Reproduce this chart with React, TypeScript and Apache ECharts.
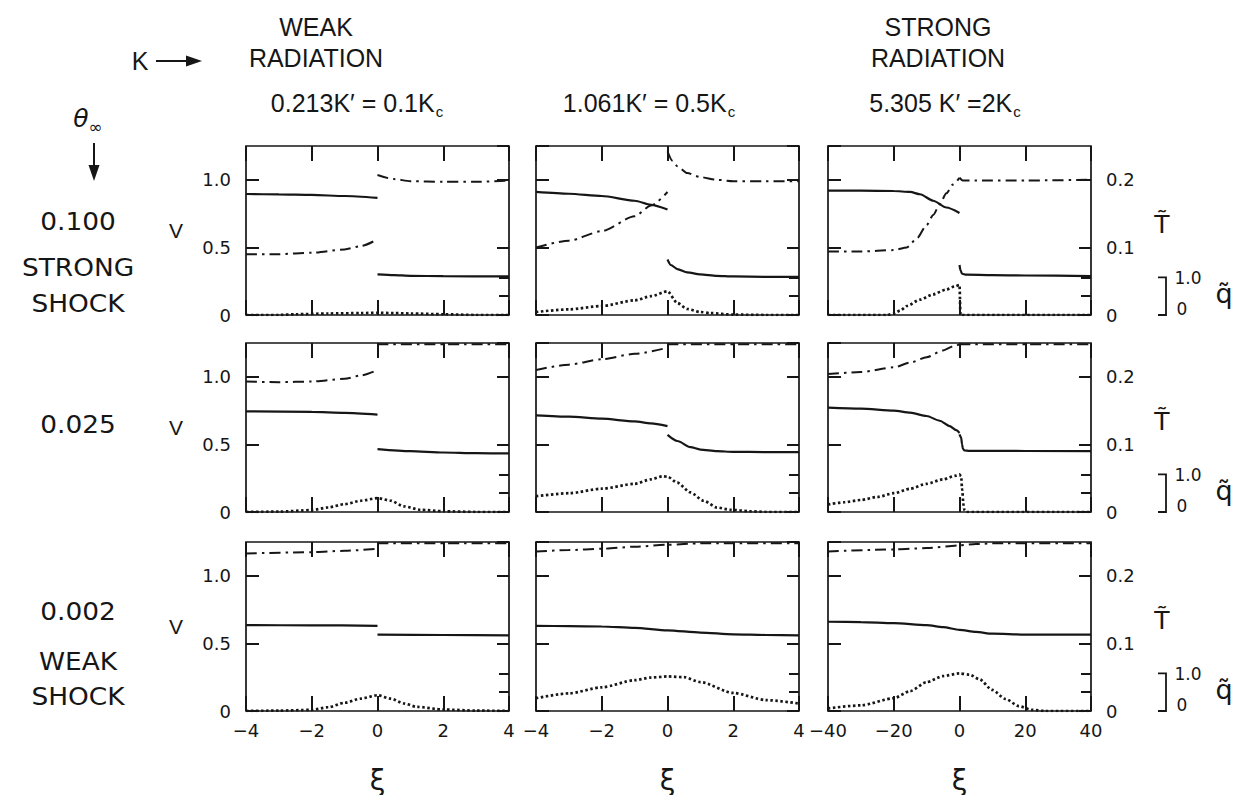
import React, { useEffect, useRef } from 'react';
import * as echarts from 'echarts';

type Pt = [number, number];

// ---------- text ----------
const radiationHeads: string[][] = [['WEAK', 'RADIATION'], [], ['STRONG', 'RADIATION']];
const kHeads = [
  { lead: '0.213K′ = 0.1K', sub: 'c' },
  { lead: '1.061K′ = 0.5K', sub: 'c' },
  { lead: '5.305 K′ =2K', sub: 'c' },
];
const thetaHeads: string[][] = [['0.100', 'STRONG', 'SHOCK'], ['0.025'], ['0.002', 'WEAK', 'SHOCK']];

// ξ range per column: [min, max, interval]
const xiRanges: [number, number, number][] = [[-4, 4, 2], [-4, 4, 2], [-40, 40, 20]];

// ---------- θ∞ = 0.100 ----------
const vUpA0: Pt[] = [[-4, 0.895], [-3, 0.892], [-2, 0.888], [-1, 0.88], [0, 0.866]];
const vDnA0: Pt[] = [[0, 0.3], [0.5, 0.295], [1, 0.29], [2, 0.287], [4, 0.285]];
const tUpA0: Pt[] = [[-4, 0.09], [-3, 0.09], [-2, 0.092], [-1, 0.097], [-0.5, 0.102], [0, 0.112]];
const tDnA0: Pt[] = [[0, 0.207], [0.5, 0.201], [1, 0.198], [2, 0.197], [3, 0.197], [4, 0.199]];
const qA0: Pt[] = [[-4, 0], [-3, 0], [-2.5, 0.02], [-1.5, 0.04], [-0.5, 0.05], [0, 0.06], [0.5, 0.05], [1, 0.04], [2, 0.02], [3, 0], [4, 0]];

const vUpB0: Pt[] = [[-4, 0.91], [-3, 0.897], [-2, 0.88], [-1, 0.845], [-0.5, 0.815], [0, 0.78]];
const vDnB0: Pt[] = [[0, 0.41], [0.1, 0.37], [0.3, 0.34], [0.6, 0.315], [1, 0.3], [1.5, 0.29], [2, 0.285], [3, 0.282], [4, 0.282]];
const tUpB0: Pt[] = [[-4, 0.1], [-3, 0.11], [-2, 0.124], [-1, 0.146], [-0.5, 0.162], [0, 0.182]];
const tDnB0: Pt[] = [[0, 0.242], [0.15, 0.228], [0.3, 0.22], [0.6, 0.21], [1, 0.204], [1.5, 0.2], [2, 0.198], [3, 0.198], [4, 0.198]];
const qB0: Pt[] = [[-4, 0.08], [-3, 0.15], [-2, 0.24], [-1, 0.39], [-0.5, 0.5], [0, 0.63], [0.3, 0.32], [0.6, 0.16], [1, 0.08], [1.3, 0.05], [2, 0.01], [3, 0], [4, 0]];

const vUpC0: Pt[] = [[-40, 0.92], [-30, 0.92], [-20, 0.917], [-15, 0.91], [-12, 0.893], [-8, 0.845], [-4, 0.795], [0, 0.755]];
const vDnC0: Pt[] = [[0, 0.37], [0.3, 0.33], [0.8, 0.305], [2, 0.298], [10, 0.295], [20, 0.292], [40, 0.288]];
const tUpC0: Pt[] = [[-40, 0.094], [-30, 0.094], [-20, 0.096], [-16, 0.1], [-13, 0.113], [-10, 0.133], [-8, 0.148], [-6, 0.164], [-4, 0.18], [-2, 0.193], [0, 0.203]];
const tDnC0: Pt[] = [[0, 0.203], [1, 0.199], [5, 0.199], [20, 0.199], [40, 0.2]];
const qC0: Pt[] = [[-40, 0], [-22, 0], [-20, 0.04], [-18, 0.12], [-16, 0.24], [-12, 0.41], [-8, 0.55], [-4, 0.68], [-1.5, 0.76], [0, 0.8], [0.3, 0], [40, 0]];

// ---------- θ∞ = 0.025 ----------
const vUpA1: Pt[] = [[-4, 0.745], [-2, 0.74], [-1, 0.733], [0, 0.72]];
const vDnA1: Pt[] = [[0, 0.465], [1, 0.45], [2, 0.44], [3, 0.435], [4, 0.433]];
const tUpA1: Pt[] = [[-4, 0.193], [-3, 0.192], [-2, 0.193], [-1, 0.197], [-0.5, 0.202], [0, 0.21]];
const tDnA1: Pt[] = [[0, 0.248], [4, 0.248]];
const qA1: Pt[] = [[-4, 0], [-3, 0.01], [-2, 0.05], [-1.5, 0.12], [-1, 0.21], [-0.5, 0.3], [0, 0.37], [0.4, 0.3], [0.8, 0.15], [1.3, 0.06], [2, 0.02], [3, 0], [4, 0]];

const vUpB1: Pt[] = [[-4, 0.715], [-3, 0.705], [-2, 0.69], [-1, 0.67], [-0.5, 0.655], [0, 0.635]];
const vDnB1: Pt[] = [[0, 0.57], [0.3, 0.525], [0.7, 0.48], [1, 0.462], [1.5, 0.45], [2, 0.445], [3, 0.443], [4, 0.443]];
const tUpB1: Pt[] = [[-4, 0.21], [-3, 0.218], [-2, 0.226], [-1, 0.234], [0, 0.243]];
const tDnB1: Pt[] = [[0, 0.248], [4, 0.248]];
const qB1: Pt[] = [[-4, 0.42], [-3, 0.5], [-2, 0.62], [-1, 0.75], [-0.5, 0.87], [-0.15, 0.95], [0, 0.94], [0.3, 0.78], [0.7, 0.52], [1.1, 0.3], [1.5, 0.12], [1.9, 0.06], [2.5, 0.02], [3, 0], [4, 0]];

const vUpC1: Pt[] = [[-40, 0.772], [-30, 0.765], [-20, 0.75], [-15, 0.735], [-10, 0.71], [-6, 0.675], [-3, 0.635], [-1, 0.605], [0, 0.585]];
const vDnC1: Pt[] = [[0, 0.575], [0.5, 0.55], [0.8, 0.5], [1, 0.47], [1.5, 0.455], [3, 0.452], [40, 0.45]];
const tUpC1: Pt[] = [[-40, 0.204], [-30, 0.207], [-20, 0.214], [-15, 0.221], [-10, 0.229], [-5, 0.239], [-2, 0.245], [0, 0.248]];
const tDnC1: Pt[] = [[0, 0.248], [40, 0.248]];
const qC1: Pt[] = [[-40, 0.2], [-35, 0.26], [-30, 0.32], [-25, 0.4], [-20, 0.5], [-15, 0.62], [-10, 0.75], [-5, 0.87], [-1, 0.97], [0, 1.0], [0.5, 0.95], [0.8, 0.6], [1.2, 0.2], [1.5, 0.05], [2, 0], [40, 0]];

// ---------- θ∞ = 0.002 ----------
const vUpA2: Pt[] = [[-4, 0.635], [-2, 0.634], [0, 0.63]];
const vDnA2: Pt[] = [[0, 0.565], [2, 0.562], [4, 0.56]];
const tUpA2: Pt[] = [[-4, 0.233], [-2, 0.235], [-1, 0.237], [0, 0.24]];
const tDnA2: Pt[] = [[0, 0.248], [4, 0.248]];
const qA2: Pt[] = [[-4, 0], [-3, 0.01], [-2, 0.03], [-1.5, 0.1], [-1, 0.22], [-0.5, 0.33], [0, 0.42], [0.4, 0.33], [0.8, 0.2], [1.2, 0.11], [2, 0.04], [3, 0.01], [4, 0]];

const vB2: Pt[] = [[-4, 0.63], [-3, 0.628], [-2, 0.625], [-1, 0.615], [0, 0.597], [1, 0.58], [2, 0.567], [3, 0.562], [4, 0.56]];
const tB2: Pt[] = [[-4, 0.236], [-3, 0.238], [-2, 0.24], [-1, 0.243], [0, 0.246], [1, 0.248], [2, 0.248], [4, 0.248]];
const qB2: Pt[] = [[-4, 0.34], [-3, 0.47], [-2, 0.63], [-1, 0.82], [-0.5, 0.89], [0, 0.92], [0.5, 0.9], [1, 0.77], [2, 0.48], [3, 0.29], [4, 0.2]];

const vC2: Pt[] = [[-40, 0.66], [-30, 0.658], [-20, 0.65], [-10, 0.635], [-5, 0.62], [0, 0.6], [5, 0.585], [10, 0.572], [20, 0.565], [40, 0.565]];
const tC2: Pt[] = [[-40, 0.236], [-20, 0.239], [-10, 0.241], [0, 0.245], [5, 0.247], [10, 0.248], [40, 0.248]];
const qC2: Pt[] = [[-40, 0.07], [-30, 0.15], [-20, 0.34], [-15, 0.53], [-10, 0.77], [-5, 0.93], [0, 1.0], [3, 0.97], [6, 0.85], [10, 0.56], [14, 0.32], [18, 0.13], [22, 0.03], [26, 0], [40, 0]];

// Panels in reading order: rows θ∞ (0.100, 0.025, 0.002), columns K (0.1, 0.5, 2 Kc)
const panels = [
  { v: [vUpA0, vDnA0], t: [tUpA0, tDnA0], q: [qA0] },
  { v: [vUpB0, vDnB0], t: [tUpB0, tDnB0], q: [qB0] },
  { v: [vUpC0, vDnC0], t: [tUpC0, tDnC0], q: [qC0] },
  { v: [vUpA1, vDnA1], t: [tUpA1, tDnA1], q: [qA1] },
  { v: [vUpB1, vDnB1], t: [tUpB1, tDnB1], q: [qB1] },
  { v: [vUpC1, vDnC1], t: [tUpC1, tDnC1], q: [qC1] },
  { v: [vUpA2, vDnA2], t: [tUpA2, tDnA2], q: [qA2] },
  { v: [vB2], t: [tB2], q: [qB2] },
  { v: [vC2], t: [tC2], q: [qC2] },
];

// ---------- layout ----------
const FONT = '"Liberation Sans", Arial, sans-serif';
const WIDE = '"DejaVu Sans", sans-serif';
const INK = '#161616';
const COL_X = [246, 536, 828];
const ROW_Y = [146, 343, 542];
const PW = 263;
const PH = 169;
const V_MAX = 1.25;
const T_MAX = 0.25;
const Q_MAX = 4.5;
const ROW_LABEL_DY = [[76, 122, 158], [82], [70, 120, 155]];

const fmtNum = (v: number) => (v === 0 ? '0' : v.toFixed(1));
const fmtXi = (v: number) => (v < 0 ? '−' + Math.abs(v) : String(v));

const lineStyles = {
  v: { type: 'solid', width: 2.2 },
  t: { type: [11, 5, 2.5, 5], width: 2 },
  q: { type: [2.5, 2.5], width: 2.7 },
};

function buildOption() {
  const grid: any[] = [];
  const xAxis: any[] = [];
  const yAxis: any[] = [];
  const series: any[] = [];
  const tick = (len: number) => ({ show: true, inside: true, length: len, lineStyle: { color: INK, width: 2 } });
  const label = (show: boolean, extra: any = {}) => ({
    show, color: INK, fontFamily: WIDE, fontSize: 18, ...extra,
  });
  const noLine = { show: false, onZero: false };

  panels.forEach((panel, p) => {
    const row = Math.floor(p / 3);
    const col = p % 3;
    const [xmin, xmax, xint] = xiRanges[col];
    grid.push({
      left: COL_X[col], top: ROW_Y[row], width: PW, height: PH,
      show: true, borderColor: INK, borderWidth: 1.7, backgroundColor: 'transparent',
    });
    const xBase = {
      gridIndex: p, type: 'value', min: xmin, max: xmax, interval: xint,
      axisLine: noLine, splitLine: { show: false }, axisTick: tick(15),
    };
    xAxis.push({ ...xBase, position: 'bottom', axisLabel: label(row === 2, { margin: 10, formatter: fmtXi }) });
    xAxis.push({ ...xBase, position: 'top', axisLabel: { show: false } });

    const yBase = { gridIndex: p, type: 'value', min: 0, axisLine: noLine, splitLine: { show: false } };
    yAxis.push({
      ...yBase, position: 'left', max: V_MAX, interval: 0.5, axisTick: tick(13),
      axisLabel: label(col === 0, { margin: 15, showMaxLabel: false, formatter: fmtNum }),
    });
    yAxis.push({
      ...yBase, position: 'right', max: T_MAX, interval: 0.1, axisTick: tick(12),
      axisLabel: label(col === 2, { margin: 15, showMaxLabel: false, formatter: fmtNum }),
    });
    yAxis.push({
      ...yBase, position: 'right', max: Q_MAX,
      axisTick: { ...tick(10), customValues: [0.5, 1] },
      axisLabel: { show: false },
    });

    (['v', 't', 'q'] as const).forEach((key, k) => {
      panel[key].forEach((seg) => {
        series.push({
          type: 'line', xAxisIndex: 2 * p, yAxisIndex: 3 * p + k, data: seg,
          symbol: 'none', smooth: 0.25, smoothMonotone: 'x', silent: true,
          lineStyle: { color: INK, ...lineStyles[key] },
        });
      });
    });
  });

  return { animation: false, backgroundColor: '#fff', grid, xAxis, yAxis, series };
}

function txt(text: string, x: number, y: number, size: number, extra: any = {}, scaleX = 1) {
  return {
    type: 'text', x, y, scaleX, silent: true,
    style: { text, fill: INK, fontFamily: FONT, fontSize: size, align: 'center', verticalAlign: 'middle', ...extra },
  };
}

function buildGraphics(chart: any) {
  const g: any[] = [];
  // column headings
  const headX = [316, 0, 938];
  radiationHeads.forEach((lines, c) => {
    lines.forEach((s, i) => g.push(txt(s, headX[c], 27 + i * 31, 25)));
  });
  const kX = [357, 649, 945];
  kHeads.forEach((h, c) => {
    g.push({
      type: 'text', x: kX[c], y: 104, silent: true,
      style: {
        text: `{m|${h.lead}}{s|${h.sub}}`, fill: INK, align: 'center', verticalAlign: 'middle',
        rich: {
          m: { fontFamily: FONT, fontSize: 25, lineHeight: 28, verticalAlign: 'top', fill: INK },
          s: { fontFamily: FONT, fontSize: 15, lineHeight: 15, verticalAlign: 'top', padding: [14, 0, 0, 1], fill: INK },
        },
      },
    });
  });
  // K arrow
  g.push(txt('K', 140, 61, 25));
  g.push({ type: 'line', silent: true, shape: { x1: 156, y1: 61, x2: 190, y2: 61 }, style: { stroke: INK, lineWidth: 2 } });
  g.push({ type: 'polygon', silent: true, shape: { points: [[186, 55.5], [202, 61], [186, 66.5]] }, style: { fill: INK } });
  // θ∞ arrow
  g.push({
    type: 'text', x: 88, y: 120, silent: true,
    style: {
      text: '{a|θ}{b|∞}', fill: INK, align: 'center', verticalAlign: 'middle',
      rich: {
        a: { fontFamily: WIDE, fontStyle: 'italic', fontSize: 25, lineHeight: 28, verticalAlign: 'top', fill: INK },
        b: { fontFamily: WIDE, fontSize: 17, lineHeight: 17, verticalAlign: 'top', padding: [12, 0, 0, 0], fill: INK },
      },
    },
  });
  g.push({ type: 'line', silent: true, shape: { x1: 94, y1: 143, x2: 94, y2: 168 }, style: { stroke: INK, lineWidth: 2 } });
  g.push({ type: 'polygon', silent: true, shape: { points: [[88.5, 165], [94, 181], [99.5, 165]] }, style: { fill: INK } });

  // row headings and axis names
  thetaHeads.forEach((lines, r) => {
    lines.forEach((s, i) => g.push(txt(s, 78, ROW_Y[r] + ROW_LABEL_DY[r][i], 24, { fontFamily: WIDE }, 1.1)));
    g.push(txt('V', 176, ROW_Y[r] + 84, 21));
    g.push(txt('T\u0303', 1162, ROW_Y[r] + 78, 25, { fontFamily: WIDE }));
    // q̃ scale bracket drawn from the q̃ axis of the right-hand panel
    const qAxis = 3 * (r * 3 + 2) + 2;
    const y1 = chart.convertToPixel({ yAxisIndex: qAxis }, 1);
    const y0 = chart.convertToPixel({ yAxisIndex: qAxis }, 0);
    const bx = 1166;
    g.push({
      type: 'polyline', silent: true,
      shape: { points: [[bx - 8, y1], [bx, y1], [bx, y0], [bx - 8, y0]] },
      style: { stroke: INK, lineWidth: 1.8, fill: null },
    });
    g.push(txt('1.0', 1188, y1 + 1, 17, { fontFamily: WIDE }));
    g.push(txt('0', 1182, y0 - 6, 17, { fontFamily: WIDE }));
    g.push(txt('q\u0303', 1224, ROW_Y[r] + 147, 27, { fontFamily: WIDE }));
  });
  // ξ under each column
  COL_X.forEach((x) => g.push(txt('ξ', x + PW / 2, 780, 28, { fontFamily: WIDE })));
  return g;
}

export default function App() {
  const ref = useRef<HTMLDivElement>(null);
  useEffect(() => {
    if (!ref.current) return;
    const chart = echarts.init(ref.current, null, { renderer: 'svg' });
    chart.setOption(buildOption());
    chart.setOption({ graphic: buildGraphics(chart) });
    return () => chart.dispose();
  }, []);
  return (
    <div
      ref={ref}
      style={{ position: 'fixed', left: 0, top: 0, width: 1245, height: 795, background: '#fff' }}
    />
  );
}
